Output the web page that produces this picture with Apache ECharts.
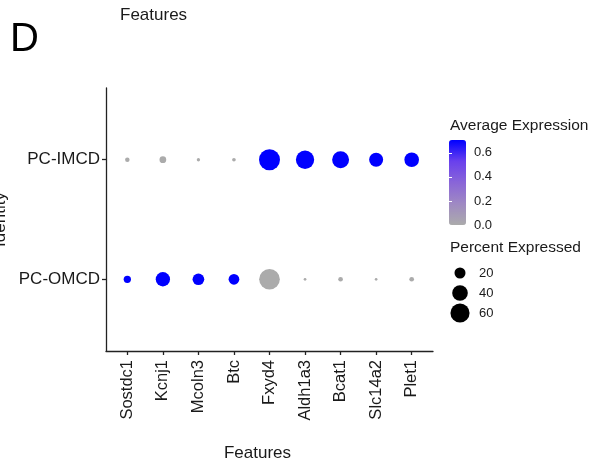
<!DOCTYPE html>
<html>
<head>
<meta charset="utf-8">
<script src="https://cdn.jsdelivr.net/npm/echarts@6/dist/echarts.min.js"></script>
<style>
  html, body { margin: 0; padding: 0; background: #fff; }
  #chart { width: 595px; height: 464px; }
</style>
</head>
<body>
<div id="chart"></div>
<script>
// Genes shown along the x axis
const features = ['Sostdc1', 'Kcnj1', 'Mcoln3', 'Btc', 'Fxyd4', 'Aldh1a3', 'Bcat1', 'Slc14a2', 'Plet1'];
// Cell identities, bottom to top
const identities = ['PC-OMCD', 'PC-IMCD'];

// Average (scaled) expression per gene
const avgExpOMCD = [0.707, 0.707, 0.707, 0.707, 0.0, 0.0, 0.0, 0.0, 0.0];
const avgExpIMCD = [0.0, 0.0, 0.0, 0.0, 0.707, 0.707, 0.707, 0.707, 0.707];
// Percent of cells expressing each gene
const pctOMCD = [8.7, 33.5, 22.4, 18.8, 70, 1.2, 3.6, 1.2, 3.6];
const pctIMCD = [3.3, 7.4, 1.8, 2.2, 72, 55, 47, 32, 35];

// Legend breaks
const sizeBreaks = [20, 40, 60];
const colorTicks = [0, 0.2, 0.4, 0.6];
const colorMax = 0.707;

const FONT = '"Liberation Sans", Arial, Helvetica, sans-serif';
const TEXT = '#1a1a1a';

// dot area proportional to percent expressed
const dotSize = pct => 2.47 * Math.sqrt(pct);

const dotData = [];
[avgExpOMCD, avgExpIMCD].forEach((avg, i) => {
  const pct = i === 0 ? pctOMCD : pctIMCD;
  features.forEach((f, j) => dotData.push([j, i, avg[j], pct[j]]));
});

const idx = arr => arr.map((_, i) => i);

const chart = echarts.init(document.getElementById('chart'), null, { renderer: 'canvas' });

chart.setOption({
  animation: false,
  backgroundColor: '#fff',
  textStyle: { fontFamily: FONT },
  grid: [
    { left: 106, top: 88, width: 327, height: 263, outerBoundsMode: 'none', containLabel: false },
    { left: 449, top: 140, width: 17, height: 85, outerBoundsMode: 'none', containLabel: false },
    { left: 450, top: 263, width: 20, height: 60, outerBoundsMode: 'none', containLabel: false }
  ],
  xAxis: [
    {
      gridIndex: 0, type: 'value', min: -0.6, max: features.length - 0.4,
      splitLine: { show: false },
      axisLine: { onZero: false, lineStyle: { color: '#222', width: 1.3 } },
      axisTick: { customValues: idx(features), length: 4, lineStyle: { color: '#222', width: 1.3 } },
      axisLabel: {
        customValues: idx(features), rotate: 90, margin: 9,
        formatter: v => features[Math.round(v)],
        fontSize: 16.5, color: TEXT, fontFamily: FONT
      },
      name: 'Features', nameLocation: 'middle', nameGap: 94, nameMoveOverlap: false,
      nameTextStyle: { fontSize: 17, color: TEXT, fontFamily: FONT, padding: [0, 24, 0, 0] }
    },
    { gridIndex: 1, type: 'value', min: 0, max: 1, show: false },
    { gridIndex: 2, type: 'value', min: -1, max: 1, show: false }
  ],
  yAxis: [
    {
      gridIndex: 0, type: 'value', min: -0.6, max: identities.length - 0.4,
      splitLine: { show: false },
      axisLine: { onZero: false, lineStyle: { color: '#222', width: 1.3 } },
      axisTick: { customValues: idx(identities), length: 4, lineStyle: { color: '#222', width: 1.3 } },
      axisLabel: {
        customValues: idx(identities), margin: 6,
        formatter: v => identities[Math.round(v)],
        fontSize: 17, color: TEXT, fontFamily: FONT
      },
      name: 'Identity', nameLocation: 'middle', nameRotate: 90, nameGap: 97, nameMoveOverlap: false,
      nameTextStyle: { fontSize: 17, color: TEXT, fontFamily: FONT }
    },
    {
      // colour bar labels and ticks (right edge)
      gridIndex: 1, type: 'value', min: 0, max: colorMax, position: 'right', z: 6,
      splitLine: { show: false },
      axisLine: { show: false },
      axisTick: { customValues: colorTicks, inside: true, length: 3, lineStyle: { color: '#fff', width: 1 } },
      axisLabel: {
        customValues: colorTicks, margin: 8,
        formatter: v => v.toFixed(1),
        fontSize: 13, color: TEXT, fontFamily: FONT
      }
    },
    {
      // colour bar ticks (left edge)
      gridIndex: 1, type: 'value', min: 0, max: colorMax, position: 'left', z: 6,
      splitLine: { show: false },
      axisLine: { show: false },
      axisTick: { customValues: colorTicks, inside: true, length: 3, lineStyle: { color: '#fff', width: 1 } },
      axisLabel: { show: false }
    },
    {
      // size legend rows
      gridIndex: 2, type: 'category', data: sizeBreaks.map(String), inverse: true, position: 'right',
      axisLine: { show: false }, axisTick: { show: false }, splitLine: { show: false },
      axisLabel: { margin: 9, fontSize: 13, color: TEXT, fontFamily: FONT }
    }
  ],
  visualMap: {
    type: 'continuous',
    min: 0, max: colorMax,
    dimension: 2,
    seriesIndex: 0,
    calculable: false,
    hoverLink: false,
    orient: 'vertical',
    left: 449, top: 140,
    itemWidth: 17, itemHeight: 85,
    padding: 0,
    text: null,
    showLabel: false,
    inRange: { color: ['#ABABAB', '#9F89C3', '#8965D8', '#6940ED', '#0000FF'] }
  },
  series: [
    {
      type: 'scatter',
      xAxisIndex: 0, yAxisIndex: 0,
      data: dotData,
      symbol: 'circle',
      symbolSize: v => dotSize(v[3]),
      itemStyle: { opacity: 1 }
    },
    {
      type: 'scatter',
      xAxisIndex: 2, yAxisIndex: 3,
      data: sizeBreaks.map((v, i) => [0, i, v]),
      symbol: 'circle',
      symbolSize: v => dotSize(v[2]),
      itemStyle: { color: '#000', opacity: 1 },
      silent: true
    }
  ],
  graphic: [
    {
      type: 'text', left: 10, top: 20,
      style: { text: 'D', fontSize: 40, fill: '#000', fontFamily: FONT }
    },
    {
      type: 'text', left: 120, top: 7,
      style: { text: 'Features', fontSize: 17, fill: TEXT, fontFamily: FONT }
    },
    {
      type: 'text', left: 450, top: 118,
      style: { text: 'Average Expression', fontSize: 15.5, fill: TEXT, fontFamily: FONT }
    },
    {
      type: 'text', left: 450, top: 240,
      style: { text: 'Percent Expressed', fontSize: 15.5, fill: TEXT, fontFamily: FONT }
    }
  ]
});
</script>
</body>
</html>
